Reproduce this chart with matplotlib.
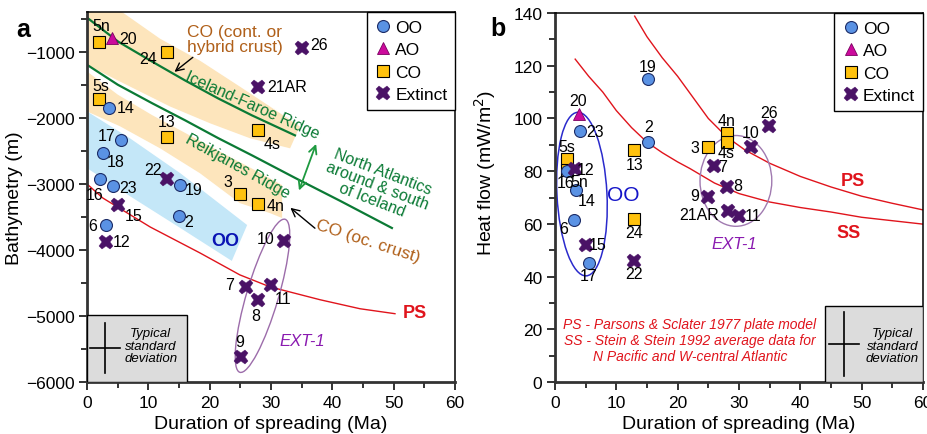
import matplotlib
matplotlib.use('Agg')
import matplotlib.pyplot as plt
import matplotlib.transforms as mtransforms
from matplotlib.patches import Ellipse, Rectangle, Polygon
from matplotlib.lines import Line2D
from matplotlib.ticker import MultipleLocator

plt.rcParams['font.family'] = ['Liberation Sans', 'DejaVu Sans']

# ---- panel a: bathymetry vs duration of spreading
a_id = ['5n', '20', '24', '5s', '14', '13', '17', '18', '16', '23', '22', '19', '15',
        '3', '4n', '4s', '2', '6', '12', '10', '7', '11', '8', '9', '26', '21AR']
a_grp = ['CO', 'AO', 'CO', 'CO', 'OO', 'CO', 'OO', 'OO', 'OO', 'OO', 'Extinct', 'OO', 'Extinct',
         'CO', 'CO', 'CO', 'OO', 'OO', 'Extinct', 'Extinct', 'Extinct', 'Extinct', 'Extinct',
         'Extinct', 'Extinct', 'Extinct']
a_dur = [2.0, 4.1, 13.0, 2.0, 3.5, 13.0, 5.6, 2.6, 2.1, 4.3, 13.0, 15.2, 5.1,
         25.0, 27.9, 27.9, 15.0, 3.1, 3.1, 32.1, 25.9, 30.0, 27.9, 25.1, 35.1, 27.9]
a_depth = [-850, -800, -1000, -1720, -1850, -2290, -2340, -2540, -2930, -3040, -2930, -3020, -3320,
           -3160, -3300, -2190, -3480, -3630, -3880, -3870, -4560, -4530, -4760, -5620, -940, -1530]

# Iceland-Faroe Ridge, Reikjanes Ridge, PS curve
ifr_x = [0.2, 5.1, 10.6, 16.0, 21.4, 26.9, 33.9]
ifr_y = [-500, -850, -1150, -1437, -1709, -1965, -2267]
rr_x = [0.2, 5.0, 10.6, 16.0, 21.4, 26.9, 33.9, 41.3, 49.7]
rr_y = [-1211, -1500, -1780, -2040, -2310, -2570, -2910, -3260, -3669]
psa_x = [0.2, 2.6, 10.3, 18.4, 24.9, 29.8, 38.0, 44.5, 50.2]
psa_y = [-3020, -3217, -3654, -4046, -4378, -4559, -4755, -4891, -4966]

# shaded fields
co1_x = [0, 5.7, 11.9, 18.4, 24.9, 29.8, 34.7, 33.1, 26.6, 20.1, 13.5, 7.0, 0.2, 0]
co1_y = [-400, -400, -804, -1136, -1528, -1829, -2131, -2463, -2312, -2086, -1829, -1528, -1211, -1211]
co2_x = [0, 5.0, 10.6, 16.0, 21.4, 26.9, 31.8, 31.8, 29.8, 24.9, 18.4, 11.9, 5.4, 0]
co2_y = [-1300, -1650, -1960, -2230, -2500, -2770, -3020, -3518, -3443, -3292, -2840, -2463, -2131, -1905]
oo_x = [0, 7.0, 15.2, 26.1, 23.6, 15.2, 7.5, 0]
oo_y = [-1905, -2312, -2840, -3624, -4167, -3669, -3217, -2764]

# ---- panel b: heat flow vs duration of spreading
b_id = ['19', '20', '23', '2', '5s', '5n', '16', '12', '14', '13', '6', '15', '17', '24', '22',
        '3', '4n', '4s', '10', '26', '7', '8', '9', '21AR', '11']
b_grp = ['OO', 'AO', 'OO', 'OO', 'CO', 'CO', 'OO', 'Extinct', 'OO', 'CO', 'OO', 'Extinct', 'OO',
         'CO', 'Extinct', 'CO', 'CO', 'CO', 'Extinct', 'Extinct', 'Extinct', 'Extinct', 'Extinct',
         'Extinct', 'Extinct']
b_dur = [15.2, 3.9, 4.1, 15.2, 1.9, 1.9, 2.0, 3.3, 3.5, 12.9, 3.1, 5.0, 5.6, 12.9, 12.9,
         24.9, 28.0, 28.0, 32.0, 34.9, 25.9, 28.0, 24.9, 28.2, 30.0]
b_hf = [114.9, 101.7, 95.2, 91.0, 84.6, 80.5, 80.0, 80.8, 72.9, 88.1, 61.6, 52.1, 45.2, 61.8, 46.0,
        89.1, 94.5, 91.1, 89.1, 97.0, 81.9, 74.1, 70.3, 64.9, 63.1]

psb_x = [13, 15, 17.5, 20, 22.5, 25, 28, 31, 35, 40, 45, 50, 55, 60]
psb_y = [138.8, 131, 123, 116, 108, 100, 93, 88, 83, 78, 74, 70.5, 67.8, 65.3]
ssb_x = [3.3, 5.5, 7.8, 10, 12.5, 15, 17.5, 20, 22, 26, 30, 35, 40, 45, 50, 55, 60]
ssb_y = [122.5, 116, 110, 103, 96.5, 91, 87, 83.5, 81, 75.5, 71.5, 68.3, 66.2, 64.5, 62.5, 61.2, 59.9]

# label offsets (pixels, y up)
a_off = {'5n': (2, 16), '20': (16, 0), '24': (-19, -7), '5s': (1, 14), '14': (17, 0), '13': (0, 15),
         '17': (-15, 5), '18': (13, -8), '16': (-5, -15), '23': (15, -1), '22': (-14, 10),
         '19': (13, -4), '15': (15, -11), '3': (-13, 13), '4n': (17, -2), '4s': (14, -13),
         '2': (10, -6), '6': (-13, 0), '12': (16, 0), '10': (-18, 3), '7': (-16, 2),
         '11': (12, -14), '8': (-2, -15), '9': (-1, 15), '26': (17, 3), '21AR': (29, 0)}
b_off = {'19': (-1, 13), '20': (-1, 13), '23': (15, 0), '2': (0, 16), '5s': (0, 13), '12': (10, 0),
         '16': (-2, -11), '5n': (13, -12), '14': (10, -11), '13': (1, -15), '6': (-10, -9),
         '15': (12, 0), '17': (-1, -13), '24': (0, -13), '22': (0, -13), '3': (-13, 0),
         '4n': (0, 12), '4s': (-1, -11), '10': (-1, 15), '26': (0, 14), '7': (9, 0),
         '8': (11, 1), '9': (-13, 1), '21AR': (-29, -4), '11': (14, 0)}

style = {
    'OO': dict(marker='o', ms=8.6, mfc='#5A92E4', mec='#1B2B66', mew=0.8, z=4),
    'AO': dict(marker='^', ms=8.5, mfc='#CC0A9C', mec='#7A0060', mew=0.6, z=4),
    'CO': dict(marker='s', ms=9.0, mfc='#FFC20E', mec='black', mew=0.8, z=3),
    'Extinct': dict(marker='X', ms=10.5, mfc='#4A1266', mec='#4A1266', mew=0.3, z=5),
}
order = ['OO', 'AO', 'CO', 'Extinct']
green = '#0B7A35'
red = '#E0141C'
brown = '#B0601A'


def draw_points(ax, ids, grps, xs, ys, offs):
    for g in order:
        st = style[g]
        px = [x for x, gg in zip(xs, grps) if gg == g]
        py = [y for y, gg in zip(ys, grps) if gg == g]
        ax.plot(px, py, ls='none', marker=st['marker'], ms=st['ms'], mfc=st['mfc'],
                mec=st['mec'], mew=st['mew'], zorder=st['z'])
    for lbl, x, y in zip(ids, xs, ys):
        ax.annotate(lbl, (x, y), xytext=offs[lbl], textcoords='offset pixels',
                    ha='center', va='center', fontsize=11.5, zorder=6)


def add_legend(ax):
    hs = []
    for g in order:
        st = style[g]
        hs.append(Line2D([], [], ls='none', marker=st['marker'], ms=st['ms'], mfc=st['mfc'],
                         mec=st['mec'], mew=st['mew'], label=g))
    leg = ax.legend(handles=hs, loc='upper right', borderaxespad=0, fontsize=12.5,
                    fancybox=False, framealpha=1, edgecolor='black', handletextpad=0.2,
                    labelspacing=0.42, borderpad=0.45, handlelength=1.0)
    leg.get_frame().set_linewidth(1.0)
    leg.set_zorder(7)


def style_axes(ax):
    for s in ['left', 'bottom']:
        ax.spines[s].set_linewidth(2)
        ax.spines[s].set_color('#333333')
    for s in ['top', 'right']:
        ax.spines[s].set_linewidth(1.1)
        ax.spines[s].set_color('black')
    ax.tick_params(which='both', direction='out', top=False, right=False, width=1.4, color='#333333')
    ax.tick_params(which='major', length=6, labelsize=12.5, pad=3)
    ax.tick_params(which='minor', length=4)
    ax.xaxis.set_major_locator(MultipleLocator(10))
    ax.xaxis.set_minor_locator(MultipleLocator(5))
    ax.set_xlim(0, 60)


fig = plt.figure(figsize=(9.28, 4.35), dpi=100)

# ================= panel a
ax = fig.add_axes([0.0938, 0.1195, 0.3966, 0.8506])
style_axes(ax)
ax.set_ylim(-6000, -400)
ax.yaxis.set_major_locator(MultipleLocator(1000))
ax.yaxis.set_minor_locator(MultipleLocator(500))
ax.set_yticks(range(-6000, -999, 1000))

ax.add_patch(Polygon(list(zip(co1_x, co1_y)), closed=True, fc='#FDE5BC', ec='none', zorder=0))
ax.add_patch(Polygon(list(zip(co2_x, co2_y)), closed=True, fc='#FDE5BC', ec='none', zorder=0))
ax.add_patch(Polygon(list(zip(oo_x, oo_y)), closed=True, fc='#C4E7F8', ec='none', zorder=0))

ax.plot(ifr_x, ifr_y, color=green, lw=1.6, zorder=1)
ax.plot(rr_x, rr_y, color=green, lw=1.6, zorder=1)
ax.plot(psa_x, psa_y, color=red, lw=1.0, zorder=1)

draw_points(ax, a_id, a_grp, a_dur, a_depth, a_off)

# ellipse drawn in a space where x and y units look equal
ta = mtransforms.Affine2D().scale(1, 92.5) + ax.transData
ax.add_patch(Ellipse((28.6, -4695 / 92.5), 26.1, 5.2, angle=73.6, fc='none',
                     ec='#9C6CAA', lw=1.0, transform=ta, zorder=2))
ax.text(35.1, -5373, 'EXT-1', color='#8A1AB0', fontsize=12, style='italic', ha='center', va='center')
ax.text(22.5, -3865, 'OO', color='#0A14B4', fontsize=13, fontweight='bold', ha='center', va='center')
ax.text(53.5, -4950, 'PS', color=red, fontsize=13, fontweight='bold', ha='center', va='center')
ax.text(24.1, -804, 'CO (cont. or\nhybrid crust)', color=brown, fontsize=12.5, ha='center',
        va='center', linespacing=1.0)
ax.annotate('', xy=(13.9, -1332), xytext=(17.6, -1060),
            arrowprops=dict(arrowstyle='->', color='black', lw=1.0, mutation_scale=14))
ax.text(26.9, -1800, 'Iceland-Faroe Ridge', color=green, fontsize=11.5, rotation=-24,
        ha='center', va='center', rotation_mode='anchor')
ax.text(24.6, -2720, 'Reikjanes Ridge', color=green, fontsize=11.5, rotation=-29,
        ha='center', va='center', rotation_mode='anchor')
ax.text(47.3, -3021, 'North Atlantics\naround & south\nof Iceland', color=green, fontsize=11.5,
        rotation=-21, ha='center', va='center', rotation_mode='anchor', linespacing=1.0)
ax.annotate('', xy=(34.4, -3141), xytext=(37.5, -2357),
            arrowprops=dict(arrowstyle='<->', color='#1E9A40', lw=1.3, mutation_scale=14))
ax.text(45.8, -3865, 'CO (oc. crust)', color=brown, fontsize=12.5, rotation=-18,
        ha='center', va='center', rotation_mode='anchor')
ax.annotate('', xy=(32.8, -3337), xytext=(37.5, -3699),
            arrowprops=dict(arrowstyle='->', color='black', lw=1.0, mutation_scale=14))

ax.add_patch(Rectangle((0, -6000), 16.3, 1019, fc='#DCDCDC', ec='black', lw=1.0, zorder=6))
ax.plot([2.9, 2.9], [-5856, -5102], color='black', lw=1.2, zorder=7)
ax.plot([0.5, 5.3], [-5479, -5479], color='black', lw=1.2, zorder=7)
ax.text(10.4, -5450, 'Typical\nstandard\ndeviation', fontsize=9.5, style='italic',
        ha='center', va='center', linespacing=1.05, zorder=7)

add_legend(ax)
ax.set_xlabel('Duration of spreading (Ma)', fontsize=14)
ax.set_ylabel('Bathymetry (m)', fontsize=14)
ax.xaxis.set_label_coords(0.5, -0.09)
ax.yaxis.set_label_coords(-0.175, 0.5)

# ================= panel b
bx = fig.add_axes([0.598, 0.1195, 0.3966, 0.8483])
style_axes(bx)
bx.set_ylim(0, 140)
bx.yaxis.set_major_locator(MultipleLocator(20))
bx.yaxis.set_minor_locator(MultipleLocator(10))

bx.plot(psb_x, psb_y, color=red, lw=1.0, zorder=1)
bx.plot(ssb_x, ssb_y, color=red, lw=1.0, zorder=1)

draw_points(bx, b_id, b_grp, b_dur, b_hf, b_off)

tb = mtransforms.Affine2D().scale(1, 2.327) + bx.transData
bx.add_patch(Ellipse((4.4, 71.3 / 2.327), 8.15, 26.7, angle=3, fc='none', ec='#2A2ACC',
                     lw=1.1, transform=tb, zorder=2))
bx.add_patch(Ellipse((29.5, 76.3 / 2.327), 11.7, 14.8, angle=0, fc='none', ec='#A07AB0',
                     lw=1.0, transform=tb, zorder=2))
bx.text(11.1, 71.3, 'OO', color='#1414C8', fontsize=15, ha='center', va='center')
bx.text(29.3, 52.4, 'EXT-1', color='#8A1AB0', fontsize=12, style='italic', ha='center', va='center')
bx.text(48.6, 76.3, 'PS', color=red, fontsize=13, fontweight='bold', ha='center', va='center')
bx.text(47.8, 56.9, 'SS', color=red, fontsize=13, fontweight='bold', ha='center', va='center')
bx.text(22.0, 15.9, 'PS - Parsons & Sclater 1977 plate model\nSS - Stein & Stein 1992 average data for\n'
        'N Pacific and W-central Atlantic', color=red, fontsize=10, style='italic',
        ha='center', va='center', multialignment='center', linespacing=1.15)

bx.add_patch(Rectangle((44.0, 0), 16.0, 28.8, fc='#DCDCDC', ec='black', lw=1.0, zorder=6))
bx.plot([47.1, 47.1], [2.1, 26.7], color='black', lw=1.2, zorder=7)
bx.plot([44.65, 49.55], [14.4, 14.4], color='black', lw=1.2, zorder=7)
bx.text(55.0, 13.7, 'Typical\nstandard\ndeviation', fontsize=9.5, style='italic',
        ha='center', va='center', linespacing=1.05, zorder=7)

add_legend(bx)
bx.set_xlabel('Duration of spreading (Ma)', fontsize=14)
bx.set_ylabel('Heat flow (mW/m$^2$)', fontsize=14)
bx.xaxis.set_label_coords(0.5, -0.09)
bx.yaxis.set_label_coords(-0.155, 0.57)

fig.text(23 / 928, 1 - 30 / 435, 'a', fontsize=18, fontweight='bold', ha='center', va='center')
fig.text(498 / 928, 1 - 29 / 435, 'b', fontsize=18, fontweight='bold', ha='center', va='center')

fig.savefig('out.png', dpi=100)
